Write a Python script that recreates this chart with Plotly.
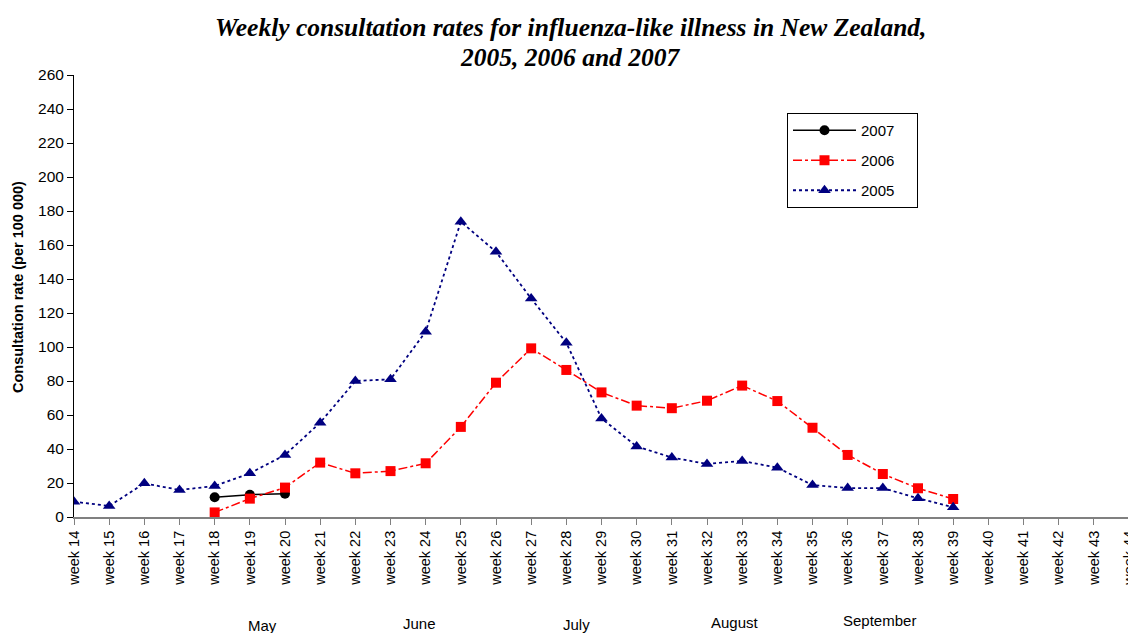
import plotly.graph_objects as go

weeks_all = list(range(14, 45))
tick_labels = [f"week {w}" for w in weeks_all]

weeks_2005 = list(range(14, 40))
rate_2005 = [9, 6.5, 19.8, 15.9, 18.2, 25.7, 36.5, 55.5, 80, 81, 109, 173.7, 156, 128.5,
             102.5, 58, 41.5, 35, 31.2, 33, 29, 18.8, 17, 17, 11, 5.7]

weeks_2006 = list(range(18, 40))
rate_2006 = [2.7, 10.8, 17.3, 32, 25.7, 27, 31.6, 53, 79, 99.2, 86.5, 73.3, 65.5, 64,
             68.4, 77.3, 68.2, 52.5, 36.5, 25.3, 16.9, 10.6]

weeks_2007 = [18, 19, 20]
rate_2007 = [11.6, 13.1, 13.7]

months = ["May", "June", "July", "August", "September"]
month_pos = [19.35, 23.83, 28.3, 32.8, 36.9]

title_lines = ["Weekly consultation rates for influenza-like illness in New Zealand,",
               "2005, 2006 and 2007"]
y_title = "Consultation rate (per 100 000)"

# browser body margin is 8px; figure sized so plot area lands at x 74..1129, y 75..517
W, H = 1128, 625
L, T, R, B = 66, 67, 7, 116
plot_h = H - T - B
plot_w = W - L - R

def py(screen_y):
    return (517 - screen_y) / plot_h

def px(screen_x):
    return (screen_x - 74) / plot_w

pad = "\u00a0" * 4
fig = go.Figure()
fig.add_trace(go.Scatter(x=weeks_2007, y=rate_2007, name="2007" + pad, mode="lines+markers",
                         legendgroup="g7",
                         line=dict(color="black", width=1.5, dash="solid"),
                         marker=dict(symbol="circle", size=10, color="black")))
fig.add_trace(go.Scatter(x=weeks_2006, y=rate_2006, name="2006" + pad, mode="lines+markers",
                         legendgroup="g6",
                         line=dict(color="#ff0000", width=1.5, dash="dashdot"),
                         marker=dict(symbol="square", size=10, color="#ff0000")))
fig.add_trace(go.Scatter(x=weeks_2005, y=rate_2005, name="2005" + pad, mode="lines+markers",
                         legendgroup="g5",
                         line=dict(color="#000080", width=1.8, dash="dot"),
                         marker=dict(symbol="triangle-up", size=11, color="#000080")))

month_y = [625, 623, 624, 622, 620]
for m, p, yy in zip(months, month_pos, month_y):
    fig.add_annotation(x=p, y=py(yy), xref="x", yref="paper", text=m, showarrow=False,
                       yanchor="middle",
                       font=dict(family="Liberation Sans Narrow, Arial Narrow, Liberation Sans",
                                 size=15, color="black"))

tfont = dict(family="Liberation Serif, Times New Roman, serif", size=25.5, color="black")
fig.add_annotation(x=px(570), y=py(28), xref="paper", yref="paper",
                   text=f"<b><i>{title_lines[0]}</i></b>", showarrow=False,
                   xanchor="center", yanchor="middle", font=tfont)
fig.add_annotation(x=px(570), y=py(58), xref="paper", yref="paper",
                   text=f"<b><i>{title_lines[1]}</i></b>", showarrow=False,
                   xanchor="center", yanchor="middle", font=tfont)

fig.add_annotation(x=px(18), y=py(287), xref="paper", yref="paper",
                   text=f"<b>{y_title}</b>", showarrow=False, textangle=-90,
                   xanchor="center", yanchor="middle",
                   font=dict(family="Liberation Sans, Arial", size=14.5, color="black"))

fig.update_layout(
    width=W, height=H,
    margin=dict(l=L, r=R, t=T, b=B, autoexpand=False),
    paper_bgcolor="white", plot_bgcolor="white",
    font=dict(family="Liberation Sans, Arial, sans-serif", color="black"),
    showlegend=True,
    legend=dict(x=px(787), y=py(113), xanchor="left", yanchor="top",
                bordercolor="black", borderwidth=1, bgcolor="white",
                font=dict(size=15, family="Liberation Sans, Arial"),
                tracegroupgap=7.5, itemwidth=63),
    xaxis=dict(range=[14, 44.0001], tickmode="array", tickvals=weeks_all, ticktext=tick_labels,
               tickangle=-90, tickfont=dict(size=14.5), showgrid=False, zeroline=False,
               showline=True, linecolor="#808080", linewidth=2, ticks="outside",
               ticklen=6, tickcolor="#808080", automargin=False, ticklabeloverflow="allow"),
    yaxis=dict(range=[0, 260], dtick=20, tickfont=dict(size=15.5), showgrid=False,
               zeroline=False, showline=True, linecolor="black", linewidth=1,
               ticks="outside", ticklen=6, tickcolor="black", automargin=False),
)

fig.write_html("out.html")
